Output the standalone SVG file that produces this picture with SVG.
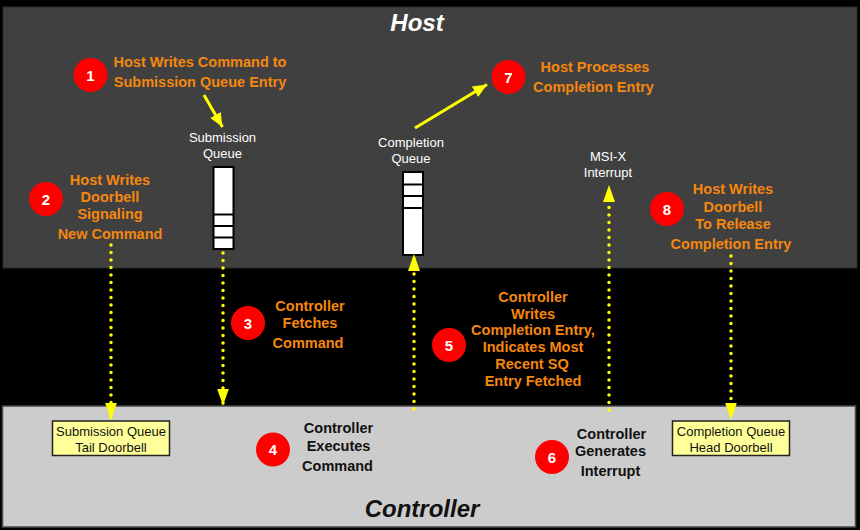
<svg xmlns="http://www.w3.org/2000/svg" width="860" height="530" viewBox="0 0 860 530">
  <style>
    .step { fill: #ff0000; }
    .num { fill: #ffffff; font: bold 15px "Liberation Sans", Arial, sans-serif; text-anchor: middle; }
    .orange { fill: #f5870f; font: bold 14.5px "Liberation Sans", Arial, sans-serif; text-anchor: middle; }
    .dark { fill: #111111; font: bold 14.5px "Liberation Sans", Arial, sans-serif; text-anchor: middle; }
    .white { fill: #ffffff; font: 13px "Liberation Sans", Arial, sans-serif; text-anchor: middle; }
    .reg { fill: #111111; font: 13px "Liberation Sans", Arial, sans-serif; text-anchor: middle; }
    .title { font: italic bold 24px "Liberation Sans", Arial, sans-serif; text-anchor: middle; }
    .queue { fill: #ffffff; stroke: #000000; stroke-width: 2; }
    .slot { stroke: #000000; stroke-width: 2; }
    .doorbell { fill: #ffff99; stroke: #222222; stroke-width: 1.5; }
    .dotted { fill: none; stroke: #ffff00; stroke-width: 3.5; stroke-linecap: round; stroke-dasharray: 0 7.5; }
    .solid { fill: none; stroke: #ffff00; stroke-width: 3; }
  </style>
  <defs>
    <marker id="head" viewBox="0 0 17 12" refX="17" refY="6" markerWidth="17" markerHeight="12" markerUnits="userSpaceOnUse" orient="auto">
      <path d="M0,0 L17,6 L0,12 z" fill="#ffff00"/>
    </marker>
    <marker id="head-small" viewBox="0 0 14 12" refX="14" refY="6" markerWidth="14" markerHeight="12" markerUnits="userSpaceOnUse" orient="auto">
      <path d="M0,0 L14,6 L0,12 z" fill="#ffff00"/>
    </marker>
  </defs>

  <!-- background -->
  <rect x="0" y="0" width="860" height="530" fill="#000000"/>

  <!-- host panel -->
  <g id="host-panel">
    <rect x="3" y="7" width="854" height="261" fill="#404040" stroke="#2a2a2a" stroke-width="1"/>
    <text class="title" x="417" y="31" fill="#ffffff">Host</text>
  </g>

  <!-- controller panel -->
  <g id="controller-panel">
    <rect x="2.5" y="406" width="853" height="121" fill="#cccccc" stroke="#4a4a4a" stroke-width="1.5"/>
    <text class="title" x="422" y="517" fill="#111111">Controller</text>
  </g>

  <!-- submission queue -->
  <g id="submission-queue">
    <text class="white" x="222.5" y="141.5">Submission</text>
    <text class="white" x="222.5" y="158">Queue</text>
    <rect class="queue" x="213.5" y="167" width="20" height="82"/>
    <line class="slot" x1="213.5" y1="214.5" x2="233.5" y2="214.5"/>
    <line class="slot" x1="213.5" y1="226" x2="233.5" y2="226"/>
    <line class="slot" x1="213.5" y1="237.5" x2="233.5" y2="237.5"/>
  </g>

  <!-- completion queue -->
  <g id="completion-queue">
    <text class="white" x="411" y="147">Completion</text>
    <text class="white" x="411" y="163">Queue</text>
    <rect class="queue" x="403" y="172" width="20" height="83"/>
    <line class="slot" x1="403" y1="184.5" x2="423" y2="184.5"/>
    <line class="slot" x1="403" y1="196" x2="423" y2="196"/>
    <line class="slot" x1="403" y1="208" x2="423" y2="208"/>
  </g>

  <!-- interrupt label -->
  <g id="msix">
    <text class="white" x="608" y="160.5">MSI-X</text>
    <text class="white" x="608" y="177">Interrupt</text>
  </g>

  <!-- doorbell registers -->
  <g id="sq-tail-doorbell">
    <rect class="doorbell" x="52.5" y="421" width="117" height="34.5"/>
    <text class="reg" x="111" y="435.5">Submission Queue</text>
    <text class="reg" x="111" y="451.5">Tail Doorbell</text>
  </g>
  <g id="cq-head-doorbell">
    <rect class="doorbell" x="672.5" y="421" width="117" height="34.5"/>
    <text class="reg" x="731" y="435.5">Completion Queue</text>
    <text class="reg" x="731" y="451.5">Head Doorbell</text>
  </g>

  <!-- steps -->
  <g id="step-1">
    <circle class="step" cx="90.5" cy="75" r="17"/>
    <text class="num" x="90.5" y="80.5">1</text>
    <text class="orange" x="200" y="66.5">Host Writes Command to</text>
    <text class="orange" x="200" y="87">Submission Queue Entry</text>
  </g>
  <g id="step-2">
    <circle class="step" cx="46" cy="199" r="17"/>
    <text class="num" x="46" y="204.5">2</text>
    <text class="orange" x="110" y="185">Host Writes</text>
    <text class="orange" x="110" y="202">Doorbell</text>
    <text class="orange" x="110" y="218.5">Signaling</text>
    <text class="orange" x="110" y="239">New Command</text>
  </g>
  <g id="step-3">
    <circle class="step" cx="248" cy="323" r="17"/>
    <text class="num" x="248" y="328.5">3</text>
    <text class="orange" x="310" y="311">Controller</text>
    <text class="orange" x="310" y="327.5">Fetches</text>
    <text class="orange" x="308" y="347.5">Command</text>
  </g>
  <g id="step-4">
    <circle class="step" cx="273" cy="449.5" r="17"/>
    <text class="num" x="273" y="455">4</text>
    <text class="dark" x="338.5" y="433">Controller</text>
    <text class="dark" x="338.5" y="450.5">Executes</text>
    <text class="dark" x="337.5" y="470.5">Command</text>
  </g>
  <g id="step-5">
    <circle class="step" cx="449" cy="345" r="17"/>
    <text class="num" x="449" y="350.5">5</text>
    <text class="orange" x="533" y="302">Controller</text>
    <text class="orange" x="533" y="318.5">Writes</text>
    <text class="orange" x="533" y="335">Completion Entry,</text>
    <text class="orange" x="533" y="352">Indicates Most</text>
    <text class="orange" x="532" y="369">Recent SQ</text>
    <text class="orange" x="533" y="386">Entry Fetched</text>
  </g>
  <g id="step-6">
    <circle class="step" cx="552" cy="457" r="17"/>
    <text class="num" x="552" y="462.5">6</text>
    <text class="dark" x="611.5" y="439">Controller</text>
    <text class="dark" x="610.5" y="456">Generates</text>
    <text class="dark" x="610.5" y="476">Interrupt</text>
  </g>
  <g id="step-7">
    <circle class="step" cx="508.5" cy="77" r="17"/>
    <text class="num" x="508.5" y="82.5">7</text>
    <text class="orange" x="595" y="72">Host Processes</text>
    <text class="orange" x="593.5" y="92">Completion Entry</text>
  </g>
  <g id="step-8">
    <circle class="step" cx="667" cy="209" r="17"/>
    <text class="num" x="667" y="214.5">8</text>
    <text class="orange" x="733" y="194">Host Writes</text>
    <text class="orange" x="733" y="212">Doorbell</text>
    <text class="orange" x="733" y="229">To Release</text>
    <text class="orange" x="731" y="249">Completion Entry</text>
  </g>

  <!-- connectors -->
  <g id="connectors">
    <path class="solid" d="M204,95 L222.5,127" marker-end="url(#head-small)"/>
    <path class="solid" d="M415,128 L487,84.5" marker-end="url(#head-small)"/>
    <path class="dotted" d="M111,245 L111,419.5" marker-end="url(#head)"/>
    <path class="dotted" d="M223,253 L223,405.5" marker-end="url(#head)"/>
    <path class="dotted" d="M414,409 L414,254" marker-end="url(#head)"/>
    <path class="dotted" d="M609,410 L609,185" marker-end="url(#head)"/>
    <path class="dotted" d="M731,256 L731,419.5" marker-end="url(#head)"/>
  </g>
</svg>
